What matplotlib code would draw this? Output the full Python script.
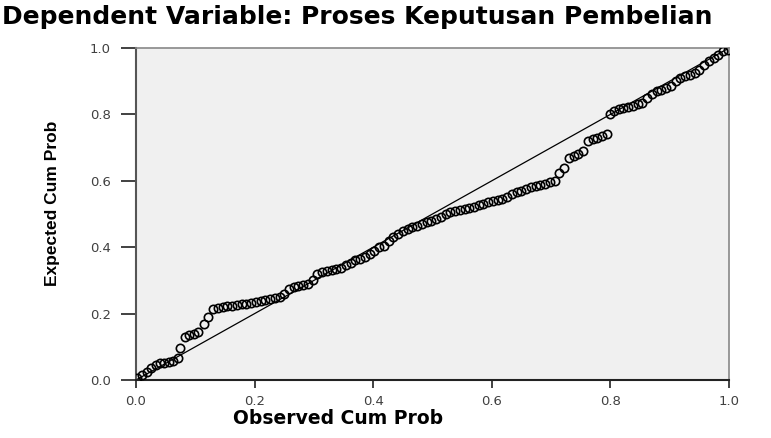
import matplotlib.pyplot as plt

# observed vs expected cumulative probability
observed = [0.002, 0.010, 0.018, 0.025, 0.033, 0.040, 0.048, 0.055, 0.062, 0.070,
            0.075, 0.082, 0.090, 0.098, 0.105, 0.115, 0.122, 0.130, 0.138, 0.146,
            0.154, 0.162, 0.170, 0.178, 0.186, 0.194, 0.202, 0.210, 0.218, 0.226,
            0.234, 0.242, 0.250, 0.258, 0.266, 0.274, 0.282, 0.290, 0.298, 0.306,
            0.314, 0.322, 0.330, 0.338, 0.346, 0.354, 0.362, 0.370, 0.378, 0.386,
            0.394, 0.402, 0.410, 0.418, 0.426, 0.434, 0.442, 0.450, 0.458, 0.466,
            0.474, 0.482, 0.490, 0.498, 0.506, 0.514, 0.522, 0.530, 0.538, 0.546,
            0.554, 0.562, 0.570, 0.578, 0.586, 0.594, 0.602, 0.610, 0.618, 0.626,
            0.634, 0.642, 0.650, 0.658, 0.666, 0.674, 0.682, 0.690, 0.698, 0.706,
            0.714, 0.722, 0.730, 0.738, 0.746, 0.754, 0.762, 0.770, 0.778, 0.786,
            0.794, 0.800, 0.806, 0.814, 0.822, 0.830, 0.838, 0.846, 0.854, 0.862,
            0.870, 0.878, 0.886, 0.894, 0.902, 0.910, 0.918, 0.926, 0.934, 0.942,
            0.950, 0.958, 0.966, 0.974, 0.982, 0.990, 0.998]
expected = [0.005, 0.015, 0.025, 0.035, 0.045, 0.050, 0.052, 0.055, 0.058, 0.065,
            0.095, 0.130, 0.135, 0.140, 0.145, 0.170, 0.190, 0.215, 0.218, 0.220,
            0.222, 0.224, 0.226, 0.228, 0.230, 0.232, 0.236, 0.238, 0.240, 0.243,
            0.246, 0.250, 0.260, 0.275, 0.280, 0.283, 0.286, 0.290, 0.300, 0.320,
            0.325, 0.328, 0.332, 0.334, 0.337, 0.345, 0.352, 0.360, 0.365, 0.370,
            0.380, 0.390, 0.400, 0.405, 0.420, 0.430, 0.440, 0.450, 0.455, 0.460,
            0.465, 0.470, 0.475, 0.480, 0.485, 0.490, 0.500, 0.505, 0.510, 0.512,
            0.515, 0.518, 0.522, 0.526, 0.530, 0.535, 0.540, 0.542, 0.545, 0.550,
            0.560, 0.565, 0.570, 0.575, 0.580, 0.585, 0.588, 0.590, 0.595, 0.600,
            0.625, 0.640, 0.670, 0.675, 0.680, 0.690, 0.720, 0.725, 0.730, 0.735,
            0.740, 0.800, 0.810, 0.815, 0.820, 0.822, 0.825, 0.830, 0.835, 0.850,
            0.860, 0.870, 0.875, 0.880, 0.885, 0.900, 0.910, 0.915, 0.920, 0.925,
            0.935, 0.950, 0.960, 0.970, 0.980, 0.990, 0.995]

ticks = [0.0, 0.2, 0.4, 0.6, 0.8, 1.0]
tick_labels = ['0.0', '0.2', '0.4', '0.6', '0.8', '1.0']

fig = plt.figure(figsize=(7.71, 4.38), dpi=100)
ax = fig.add_axes([136 / 771, 1 - 380 / 438, 593 / 771, 332 / 438])
ax.set_facecolor('#f0f0f0')

ax.plot([0, 1], [0, 1], color='black', lw=0.9, zorder=2)
ax.plot(observed, expected, 'o', ms=6, mfc='none', mec='black', mew=1.2, zorder=3)

ax.set_xlim(0, 1)
ax.set_ylim(0, 1)
ax.set_xticks(ticks)
ax.set_xticklabels(tick_labels)
ax.set_yticks(ticks)
ax.set_yticklabels(tick_labels)
ax.tick_params(axis='x', length=6, width=1.3, color='#333333', pad=5,
               labelsize=9.5, labelcolor='#404040')
ax.tick_params(axis='y', length=11, width=1.3, color='#333333', pad=7,
               labelsize=9.5, labelcolor='#404040')
for side in ['top', 'right']:
    ax.spines[side].set_color('#888888')
    ax.spines[side].set_linewidth(1.2)
ax.spines['left'].set_color('#555555')
ax.spines['left'].set_linewidth(1.5)
ax.spines['bottom'].set_color('#222222')
ax.spines['bottom'].set_linewidth(1.5)

fig.text(0.003, 1 - 17 / 438, 'Dependent Variable: Proses Keputusan Pembelian',
         ha='left', va='center', fontsize=18, fontweight='bold', family='DejaVu Sans')
fig.text(338 / 771, 1 - 419 / 438, 'Observed Cum Prob', ha='center', va='center',
         fontsize=13.5, fontweight='bold', family='DejaVu Sans')
fig.text(53 / 771, 1 - 203 / 438, 'Expected Cum Prob', ha='center', va='center',
         rotation=90, fontsize=12.5, fontweight='bold', family='Liberation Sans')

fig.savefig('out.png', dpi=100)
